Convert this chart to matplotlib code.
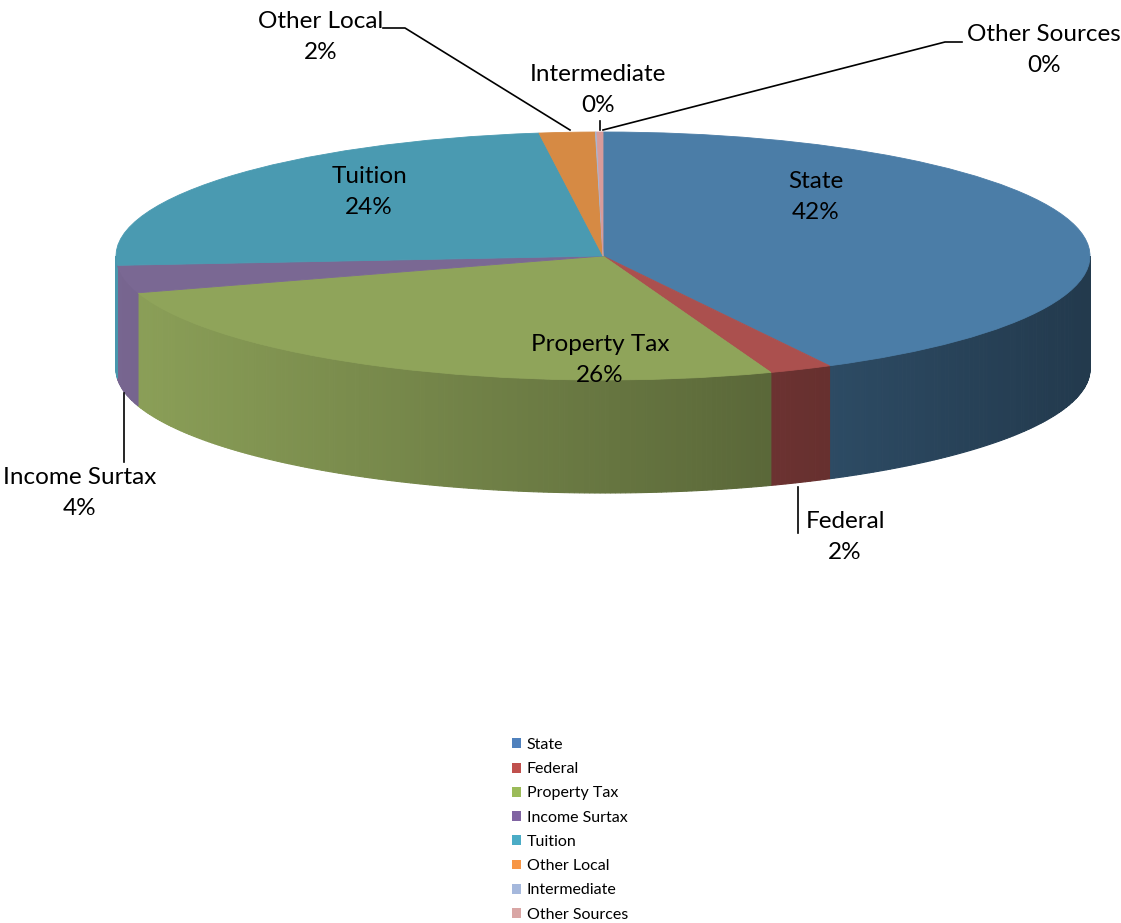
import numpy as np
import matplotlib
matplotlib.use('Agg')
import matplotlib.pyplot as plt
from matplotlib.patches import Polygon, Patch
import matplotlib.colors as mcolors

categories = ['State', 'Federal', 'Property Tax', 'Income Surtax', 'Tuition',
              'Other Local', 'Intermediate', 'Other Sources']
shares = [42.3, 2.1, 25.8, 3.6, 24.1, 1.85, 0.05, 0.2]
pct_labels = ['42%', '2%', '26%', '4%', '24%', '2%', '0%', '0%']
top_colors = ['#4B7DA7', '#AB504E', '#8FA45A', '#7A6893', '#4A9AB1',
              '#D68A44', '#A5B8D8', '#D89B9A']
legend_colors = ['#4F81BD', '#C0504D', '#9BBB59', '#8064A2', '#4BACC6',
                 '#F79646', '#A5B8DC', '#D9A6A5']

W, H = 1121, 923
FONT = 'Lato'
fig = plt.figure(figsize=(W / 100, H / 100), dpi=100)

# ---- pie axes (ellipse via non-equal scaling) ----
cx, cy, rx, ry, depth_px = 603, 256, 487, 124, 113
ax = fig.add_axes([0, 0, 1, 1])
wedges, _ = ax.pie(shares, startangle=90, counterclock=False, colors=top_colors,
                   radius=1, center=(0, 0), wedgeprops=dict(linewidth=0.6))
for w in wedges:
    w.set_edgecolor(w.get_facecolor())
    w.set_zorder(3)
ax.set_xlim(-cx / rx, (W - cx) / rx)
ax.set_ylim(-(H - cy) / ry, cy / ry)
ax.set_aspect('auto')
ax.axis('off')

d = depth_px / ry


def shade(x):
    return 0.72 - 0.26 * x


for w, col in zip(wedges, top_colors):
    a, b = sorted((w.theta1, w.theta2))
    base = np.array(mcolors.to_rgb(col))
    for k in (-1, 0, 1):
        lo = max(a, -180 + 360 * k)
        hi = min(b, 0 + 360 * k)
        if hi <= lo:
            continue
        n = max(2, int((hi - lo) / 0.6))
        edges = np.linspace(lo, hi, n + 1)
        for t0, t1 in zip(edges[:-1], edges[1:]):
            t = np.radians(np.linspace(t0, t1, 4))
            xs = np.cos(t)
            ys = np.sin(t)
            pts = np.concatenate([np.column_stack([xs, ys]),
                                  np.column_stack([xs[::-1], ys[::-1] - d])])
            xm = np.cos(np.radians((t0 + t1) / 2))
            c = np.clip(base * shade(xm), 0, 1)
            ax.add_patch(Polygon(pts, closed=True, facecolor=c, edgecolor=c,
                                 linewidth=0.8, zorder=2))

# ---- overlay for labels, leaders and legend (pixel coordinates) ----
ov = fig.add_axes([0, 0, 1, 1])
ov.set_xlim(0, W)
ov.set_ylim(H, 0)
ov.axis('off')
ov.patch.set_alpha(0)

fs = 17.5
ls = 1.56
label_pos = {
    'State': (816, 197),
    'Federal': (845, 537),
    'Property Tax': (600, 360),
    'Income Surtax': (80, 493),
    'Tuition': (369, 192),
    'Other Local': (321, 37),
    'Intermediate': (598, 90),
    'Other Sources': (1044, 50),
}
for cat, p in zip(categories, pct_labels):
    x, y = label_pos[cat]
    ov.text(x, y, f'{cat}\n{p}', ha='center', va='center', fontsize=fs,
            family=FONT, linespacing=ls, color='black', zorder=5)

leaders = [
    ([383, 405, 570], [28, 28, 130]),
    ([603, 945, 962], [130, 42, 42]),
    ([600, 600], [121, 130]),
    ([798, 798], [487, 533]),
    ([124, 124], [393, 462]),
]
for xs, ys in leaders:
    ov.plot(xs, ys, color='black', linewidth=1.2, zorder=4)

lfs = 11.5
handles = [Patch(facecolor=c, edgecolor='none') for c in legend_colors]
leg = ov.legend(handles, categories, loc='upper left',
                bbox_to_anchor=(512, 738), bbox_transform=ov.transData,
                frameon=False, borderpad=0, borderaxespad=0,
                handlelength=0.58, handleheight=0.58, handletextpad=0.35,
                labelspacing=0.64, prop={'family': FONT, 'size': lfs})

fig.savefig('out.png', dpi=100, facecolor='white')
